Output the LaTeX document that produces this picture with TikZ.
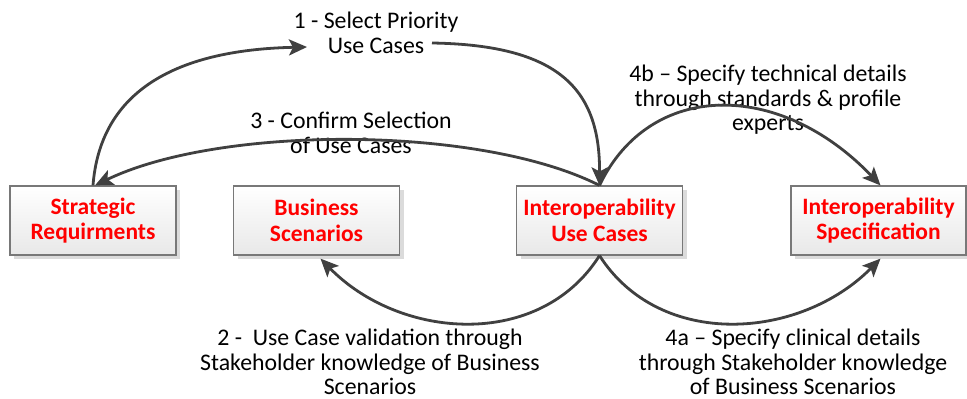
\documentclass[tikz,border=0pt]{standalone}
\usepackage{fontspec}
\setmainfont{Carlito}
\usetikzlibrary{arrows.meta}
\usetikzlibrary{shadows}
\usetikzlibrary{positioning}
\definecolor{arrowgray}{RGB}{64,64,64}
\definecolor{boxline}{RGB}{120,120,120}
\definecolor{boxred}{RGB}{255,0,0}

\tikzset{
  stage/.style={draw=boxline, line width=1.2pt, top color=white, bottom color=black!9,
    minimum width=166pt, minimum height=69pt, align=center, text=boxred,
    font=\fontsize{23.5}{25.5}\selectfont\bfseries,
    drop shadow={shadow xshift=4pt, shadow yshift=-4pt, fill=black!14, opacity=1}},
  note/.style={align=center, font=\fontsize{23.8}{24.5}\selectfont},
  flow/.style={draw=arrowgray, line width=2.8pt, -{Stealth[length=18pt,width=16pt,inset=4pt]}},
}

\begin{document}
\begin{tikzpicture}[x=1pt,y=-1pt]
	\useasboundingbox (0,0) rectangle (967,399);

	% the four stages
	\node [stage] (sr) at (93,220.5) {Strategic\\Requirments};
	\node [stage] (bs) at (316.5,220.5) {Business\\Scenarios};
	\node [stage] (uc) at (599.5,220.5) {Interoperability\\Use Cases};
	\node [stage, minimum width=175pt] (is) at (878.5,220.5) {Interoperability\\Specification};

	% labels
	\node [note] (pick) at (376,33) {1 - Select Priority\\Use Cases};
	\node [note] (confirm) at (351,133) {3 - Confirm Selection\\of Use Cases};
	\node [note] (tech) at (768,100) {4b -- Specify technical details\\through standards \& profile\\experts};
	\node [note] (valid) at (370,362) {2 -\ \ Use Case validation through\\Stakeholder knowledge of Business\\Scenarios};
	\node [note] (clin) at (793,362) {4a -- Specify clinical details\\through Stakeholder knowledge\\of Business Scenarios};

	\coordinate (pickin) at (307,47);
	\coordinate (pickout) at (432,43);

	% connectors
	\draw [flow] (sr.north) .. controls (100,95) and (170,50) .. (pickin);
	\draw [flow] (pickout) .. controls (560,45) and (600,90) .. (uc.north);
	\draw [flow] (uc.north) .. controls (480,125) and (220,125) .. ([xshift=2pt]sr.north);
	\draw [flow] (uc.north) .. controls (650,80) and (780,80) .. ([xshift=2pt]is.north);
	\draw [flow] (uc.south) .. controls (540,350) and (400,340) .. ([xshift=4pt,yshift=-3pt]bs.south);
	\draw [flow] (uc.south) .. controls (660,350) and (800,340) .. ([xshift=2pt,yshift=-3pt]is.south);

\end{tikzpicture}
\end{document}
